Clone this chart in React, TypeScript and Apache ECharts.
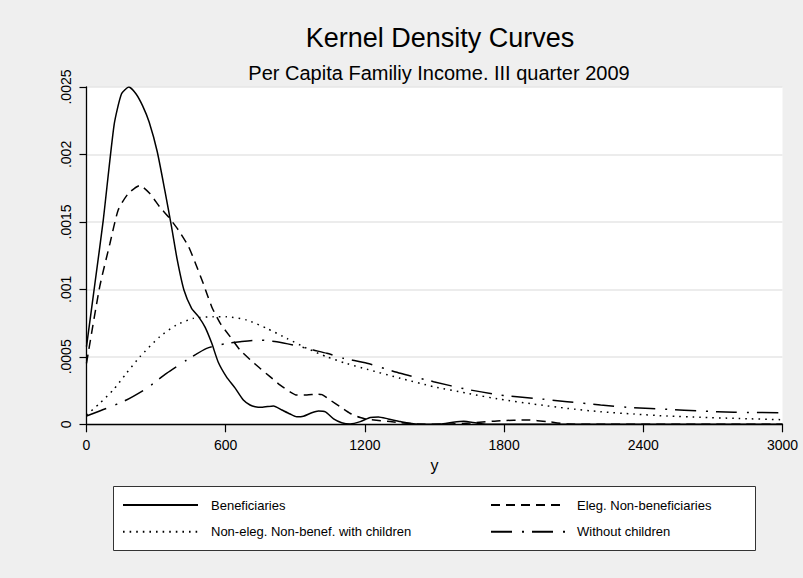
import React, { useEffect, useRef } from "react";
import * as echarts from "echarts";

// ---- data ----
const beneficiariesX = [0, 36, 72, 119, 151, 183, 213, 242, 270, 305, 338, 367, 391, 420, 453, 482, 511, 540, 568, 604, 640, 676, 705, 727, 755, 806, 842, 878, 906, 935, 971, 1000, 1030, 1065, 1100, 1137, 1180, 1223, 1258, 1300, 1353, 1439, 1525, 1580, 1626, 1680, 1727, 1800, 3000];
const beneficiariesY = [0.000575, 0.00104, 0.00151, 0.00222, 0.00245, 0.0025, 0.00245, 0.00236, 0.00224, 0.00202, 0.00173, 0.00146, 0.00122, 0.000995, 0.00086, 0.0008, 0.00072, 0.0006, 0.00046, 0.00035, 0.00027, 0.00018, 0.000143, 0.00013, 0.000126, 0.000136, 0.000106, 0.000076, 0.000056, 0.00006, 0.000086, 0.0000985, 0.000092, 0.00004, 0.000012, 0.000003, 0.00002, 0.00005, 0.000055, 0.00004, 0.00002, 0, 0.000002, 0.000015, 0.000022, 0.00001, 0.000001, 0, 0];

const eligibleX = [0, 57, 101, 137, 180, 230, 273, 316, 352, 396, 439, 475, 504, 540, 576, 619, 662, 705, 748, 791, 835, 878, 906, 950, 993, 1015, 1050, 1093, 1137, 1180, 1209, 1309, 1425, 1540, 1669, 1784, 1900, 1986, 2072, 2200, 3000];
const eligibleY = [0.000452, 0.00102, 0.00134, 0.00159, 0.00171, 0.00177, 0.00171, 0.00161, 0.00154, 0.00144, 0.00132, 0.00117, 0.00104, 0.00087, 0.00075, 0.00065, 0.00055, 0.00048, 0.000415, 0.000353, 0.00029, 0.00024, 0.000217, 0.000217, 0.000224, 0.00022, 0.00018, 0.00013, 0.00008, 0.00005, 0.000037, 0.00002, 0.000002, 0, 0.000012, 0.000027, 0.000032, 0.00002, 0.000002, 0, 0];

const withChildrenX = [0, 57, 115, 172, 230, 316, 388, 460, 547, 604, 691, 777, 863, 950, 1036, 1122, 1209, 1353, 1496, 1640, 1784, 1928, 2072, 2216, 2360, 2504, 2648, 2791, 3000];
const withChildrenY = [0.000069, 0.000155, 0.000254, 0.000378, 0.0005, 0.00065, 0.000736, 0.000785, 0.000797, 0.000797, 0.000773, 0.000711, 0.000637, 0.000563, 0.0005, 0.00045, 0.000408, 0.000341, 0.000279, 0.00023, 0.000185, 0.00015, 0.000118, 0.000093, 0.000076, 0.000061, 0.000052, 0.000044, 0.000034];

const withoutChildrenX = [0, 86, 172, 259, 345, 432, 518, 604, 662, 748, 820, 892, 978, 1036, 1108, 1209, 1353, 1496, 1640, 1784, 1928, 2072, 2216, 2360, 2504, 2648, 2791, 3000];
const withoutChildrenY = [0.0000615, 0.000118, 0.00018, 0.000266, 0.000378, 0.000476, 0.000563, 0.0006, 0.000612, 0.000624, 0.000612, 0.000587, 0.00055, 0.000526, 0.000489, 0.000452, 0.000378, 0.000316, 0.000259, 0.000217, 0.000193, 0.000168, 0.000143, 0.000123, 0.000111, 0.0000985, 0.000089, 0.000086];

const seriesNames = [
  "Beneficiaries",
  "Eleg. Non-beneficiaries",
  "Non-eleg. Non-benef. with children",
  "Without children",
];
const yTickLabels = ["0", ".0005", ".001", ".0015", ".002", ".0025"];
const xTickLabels = ["0", "600", "1200", "1800", "2400", "3000"];
const titleText = "Kernel Density Curves";
const subtitleText = "Per Capita Familiy Income. III quarter 2009";
const xAxisName = "y";

const FONT = "'Liberation Sans', Arial, Helvetica, sans-serif";

function zip(xs: number[], ys: number[]) {
  return xs.map((x, i) => [x, ys[i]]);
}

export default function App() {
  const ref = useRef<HTMLDivElement>(null);
  useEffect(() => {
    if (!ref.current) return;
    const chart = echarts.init(ref.current, undefined, { renderer: "svg" });
    const lineBase = { color: "#000", width: 1.5 };
    const dashTypes: any[] = ["solid", [9, 6], [1.6, 5], [21, 10, 2, 8]];
    const datasets = [
      zip(beneficiariesX, beneficiariesY),
      zip(eligibleX, eligibleY),
      zip(withChildrenX, withChildrenY),
      zip(withoutChildrenX, withoutChildrenY),
    ];
    const legendCommon = {
      orient: "vertical",
      padding: 0,
      itemWidth: 75,
      itemHeight: 14,
      itemGap: 12.7,
      top: 498,
      selectedMode: false,
      itemStyle: { opacity: 0 },
      textStyle: { fontSize: 13, color: "#000", fontFamily: FONT, lineHeight: 14 },
    };
    chart.setOption({
      animation: false,
      backgroundColor: "#EFEFEF",
      title: [
        {
          text: titleText,
          left: 435,
          textAlign: "center",
          top: 19.5,
          textStyle: { fontSize: 27, fontWeight: "normal", color: "#000", fontFamily: FONT },
        },
        {
          text: subtitleText,
          left: 434,
          textAlign: "center",
          top: 57.5,
          textStyle: { fontSize: 20, fontWeight: "normal", color: "#000", fontFamily: FONT },
        },
      ],
      graphic: [
        {
          type: "rect",
          z: 0,
          shape: { x: 113.5, y: 486.5, width: 642, height: 64 },
          style: { fill: "#fff", stroke: "#333", lineWidth: 1 },
        },
      ],
      legend: [
        {
          ...legendCommon,
          left: 122,
          data: [seriesNames[0], seriesNames[2]],
          textStyle: { ...legendCommon.textStyle, padding: [0, 0, 0, 8] },
        },
        {
          ...legendCommon,
          left: 490,
          data: [seriesNames[1], seriesNames[3]],
          textStyle: { ...legendCommon.textStyle, padding: [0, 0, 0, 6] },
        },
      ],
      grid: {
        left: 86.5,
        right: 20.5,
        top: 87,
        bottom: 153.7,
        show: true,
        backgroundColor: "#fff",
        borderWidth: 0,
      },
      xAxis: {
        type: "value",
        min: 0,
        max: 3000,
        interval: 600,
        name: xAxisName,
        nameLocation: "middle",
        nameGap: 33,
        nameTextStyle: { fontSize: 16, color: "#000", fontFamily: FONT },
        axisLine: { lineStyle: { color: "#000", width: 1.3 } },
        axisTick: { length: 8, lineStyle: { color: "#000", width: 1.2 } },
        axisLabel: {
          fontSize: 14,
          color: "#000",
          fontFamily: FONT,
          margin: 14,
          formatter: (_v: number, i: number) => xTickLabels[i] ?? String(_v),
        },
        splitLine: { show: false },
      },
      yAxis: {
        type: "value",
        min: 0,
        max: 0.0025,
        interval: 0.0005,
        axisLine: { show: true, lineStyle: { color: "#000", width: 1.3 } },
        axisTick: { show: true, length: 7, lineStyle: { color: "#000", width: 1.2 } },
        axisLabel: {
          rotate: 90,
          fontSize: 14,
          color: "#000",
          fontFamily: FONT,
          margin: 14,
          formatter: (_v: number, i: number) => yTickLabels[i] ?? String(_v),
        },
        splitLine: { show: true, lineStyle: { color: "#E6E6E6", width: 1.5 } },
      },
      series: datasets.map((d, i) => ({
        name: seriesNames[i],
        type: "line",
        data: d,
        symbol: "none",
        showSymbol: false,
        smooth: 0.2,
        lineStyle: { ...lineBase, type: dashTypes[i] },
        itemStyle: { color: "#000" },
        z: 3,
      })),
    });
    return () => chart.dispose();
  }, []);
  return (
    <div
      ref={ref}
      style={{ position: "absolute", left: 0, top: 0, width: 803, height: 578 }}
    />
  );
}
